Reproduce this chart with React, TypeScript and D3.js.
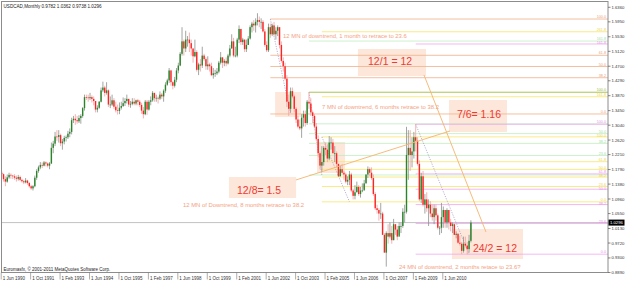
import React from 'react';
import * as d3 from 'd3';

// ---------- DATA ----------
const chartTitle = 'USDCAD,Monthly  0.9782 1.0362 0.9738 1.0296';
const copyright = 'Euromasfx, \u00A9 2001-2011 MetaQuotes Software Corp.';
const firstBar = new Date(1990, 5, 1); // Jun 1990
const firstOpen = 1.17;

// monthly closes Jun 1990 .. Sep 2011
const closes = [
  1.1660, 1.1520, 1.1450, 1.1570, 1.1640, 1.1620, 1.1600,
  1.1560, 1.1530, 1.1580, 1.1500, 1.1460, 1.1430, 1.1480, 1.1410, 1.1320, 1.1260, 1.1320, 1.1560,
  1.1750, 1.1850, 1.1920, 1.1900, 1.1990, 1.1960, 1.1900, 1.1960, 1.2400, 1.2520, 1.2720, 1.2710,
  1.2760, 1.2530, 1.2580, 1.2680, 1.2700, 1.2800, 1.2850, 1.3180, 1.3220, 1.3180, 1.3150, 1.3240,
  1.3300, 1.3520, 1.3830, 1.3820, 1.3800, 1.3830, 1.3780, 1.3720, 1.3480, 1.3530, 1.3700, 1.4020,
  1.4100, 1.3950, 1.4020, 1.3620, 1.3620, 1.3740, 1.3560, 1.3460, 1.3440, 1.3530, 1.3580, 1.3660,
  1.3720, 1.3780, 1.3620, 1.3640, 1.3700, 1.3650, 1.3740, 1.3700, 1.3610, 1.3450, 1.3350, 1.3700,
  1.3480, 1.3700, 1.3740, 1.3950, 1.3800, 1.3810, 1.3790, 1.3900, 1.3850, 1.4010, 1.4180, 1.4300,
  1.4580, 1.4250, 1.4150, 1.4320, 1.4580, 1.4720, 1.5050, 1.5400, 1.5200, 1.5450, 1.5450, 1.5350,
  1.5200, 1.4980, 1.5100, 1.4600, 1.4750, 1.4720, 1.5000, 1.4900, 1.4700, 1.4750, 1.4700, 1.4450,
  1.4500, 1.4500, 1.4550, 1.4800, 1.4950, 1.4800, 1.4850, 1.4780, 1.5000, 1.5200, 1.5400, 1.5000,
  1.5000, 1.5450, 1.5750, 1.5380, 1.5450, 1.5180, 1.5300, 1.5480, 1.5800, 1.5900, 1.5850, 1.5950,
  1.6000, 1.5950, 1.5950, 1.5680, 1.5300, 1.5150, 1.5800, 1.5600, 1.5850, 1.5600, 1.5700, 1.5800,
  1.5300, 1.4850, 1.4700, 1.4350, 1.3700, 1.3500, 1.4000, 1.3850, 1.3500, 1.3200, 1.3000, 1.2950,
  1.3250, 1.3350, 1.3100, 1.3700, 1.3650, 1.3400, 1.3300, 1.3000, 1.2650, 1.2250, 1.1900, 1.2000,
  1.2400, 1.2350, 1.2100, 1.2550, 1.2550, 1.2250, 1.2250, 1.1950, 1.1600, 1.1800, 1.1700, 1.1650,
  1.1450, 1.1500, 1.1650, 1.1200, 1.1050, 1.1150, 1.1300, 1.1100, 1.1200, 1.1200, 1.1400, 1.1650,
  1.1800, 1.1700, 1.1550, 1.1100, 1.0700, 1.0650, 1.0550, 1.0550, 0.9950, 0.9450, 1.0000, 0.9900,
  1.0000, 0.9800, 1.0250, 1.0100, 0.9900, 1.0200, 1.0200, 1.0600, 1.0600, 1.2200, 1.2400, 1.2200,
  1.2300, 1.2700, 1.2600, 1.1950, 1.0950, 1.1600, 1.0800, 1.0950, 1.0700, 1.0800, 1.0550, 1.0450,
  1.0700, 1.0500, 1.0150, 1.0150, 1.0450, 1.0650, 1.0300, 1.0650, 1.0300, 1.0200, 1.0250, 0.9950,
  0.9980, 0.9730, 0.9700, 0.9500, 0.9700, 0.9650, 0.9550, 0.9782, 1.0296,
];

const highs = [
  1.1760, 1.1680, 1.1600, 1.1650, 1.1700, 1.1680, 1.1640,
  1.1660, 1.1620, 1.1640, 1.1620, 1.1530, 1.1500, 1.1550, 1.1500, 1.1440, 1.1360, 1.1350, 1.1620,
  1.1800, 1.1900, 1.2000, 1.1990, 1.2030, 1.2020, 1.1990, 1.2000, 1.2550, 1.2600, 1.2850, 1.2900,
  1.2900, 1.2800, 1.2650, 1.2740, 1.2750, 1.2880, 1.2950, 1.3250, 1.3300, 1.3350, 1.3300, 1.3320,
  1.3350, 1.3550, 1.3900, 1.3900, 1.3900, 1.3950, 1.3880, 1.3850, 1.3720, 1.3600, 1.3720, 1.4100,
  1.4266, 1.4150, 1.4250, 1.4050, 1.3850, 1.3900, 1.3800, 1.3700, 1.3620, 1.3680, 1.3700, 1.3820,
  1.3800, 1.3900, 1.3780, 1.3720, 1.3800, 1.3800, 1.3760, 1.3780, 1.3750, 1.3670, 1.3550, 1.3750,
  1.3750, 1.3750, 1.3850, 1.4000, 1.3950, 1.3900, 1.3850, 1.3990, 1.3950, 1.4050, 1.4250, 1.4350,
  1.4650, 1.4600, 1.4280, 1.4400, 1.4650, 1.4800, 1.5100, 1.5800, 1.5450, 1.5700, 1.5550, 1.5650,
  1.5450, 1.5200, 1.5450, 1.5150, 1.4800, 1.4900, 1.5250, 1.5050, 1.4950, 1.4980, 1.4800, 1.4800,
  1.4650, 1.4600, 1.4650, 1.4850, 1.5100, 1.4950, 1.4900, 1.4950, 1.5050, 1.5300, 1.5600, 1.5500,
  1.5250, 1.5500, 1.5850, 1.5750, 1.5500, 1.5450, 1.5450, 1.5550, 1.5850, 1.5950, 1.6000, 1.6050,
  1.6193, 1.6100, 1.6050, 1.6000, 1.5750, 1.5400, 1.5900, 1.5900, 1.5900, 1.5950, 1.5800, 1.5850,
  1.5800, 1.5400, 1.4950, 1.4800, 1.4450, 1.3900, 1.4100, 1.4100, 1.3900, 1.3550, 1.3300, 1.3200,
  1.3350, 1.3450, 1.3450, 1.3750, 1.3968, 1.3800, 1.3450, 1.3350, 1.3100, 1.2750, 1.2300, 1.2450,
  1.2450, 1.2550, 1.2500, 1.2734, 1.2700, 1.2650, 1.2450, 1.2300, 1.1950, 1.1900, 1.1950, 1.1750,
  1.1700, 1.1600, 1.1750, 1.1700, 1.1250, 1.1350, 1.1450, 1.1350, 1.1300, 1.1400, 1.1500, 1.1650,
  1.1878, 1.1850, 1.1850, 1.1650, 1.1150, 1.0800, 1.0700, 1.0850, 1.0600, 1.0000, 1.0050, 1.0250,
  1.0300, 1.0200, 1.0400, 1.0250, 1.0200, 1.0300, 1.0300, 1.0700, 1.0800, 1.2994, 1.2900, 1.2900,
  1.2700, 1.2850, 1.3065, 1.2700, 1.2050, 1.1700, 1.1750, 1.1100, 1.1150, 1.0950, 1.0900, 1.0800,
  1.0800, 1.0800, 1.0550, 1.0200, 1.0850, 1.0750, 1.0650, 1.0700, 1.0650, 1.0400, 1.0300, 1.0250,
  1.0050, 1.0000, 0.9920, 0.9750, 0.9900, 0.9900, 0.9750, 0.9950, 1.0362,
];

const lows = [
  1.1600, 1.1450, 1.1320, 1.1420, 1.1530, 1.1530, 1.1520,
  1.1500, 1.1450, 1.1480, 1.1460, 1.1420, 1.1380, 1.1400, 1.1360, 1.1280, 1.1220, 1.1200, 1.1290,
  1.1500, 1.1700, 1.1800, 1.1830, 1.1880, 1.1880, 1.1850, 1.1800, 1.1950, 1.2250, 1.2450, 1.2600,
  1.2550, 1.2450, 1.2350, 1.2500, 1.2580, 1.2650, 1.2700, 1.2780, 1.3100, 1.3050, 1.3080, 1.3100,
  1.3080, 1.3250, 1.3450, 1.3750, 1.3700, 1.3750, 1.3680, 1.3600, 1.3400, 1.3400, 1.3500, 1.3680,
  1.3970, 1.3850, 1.3900, 1.3550, 1.3520, 1.3580, 1.3500, 1.3400, 1.3340, 1.3350, 1.3480, 1.3550,
  1.3580, 1.3650, 1.3550, 1.3530, 1.3600, 1.3600, 1.3600, 1.3600, 1.3550, 1.3360, 1.3230, 1.3320,
  1.3330, 1.3450, 1.3600, 1.3700, 1.3700, 1.3700, 1.3650, 1.3750, 1.3780, 1.3700, 1.3950, 1.4150,
  1.4230, 1.4150, 1.4050, 1.4100, 1.4250, 1.4500, 1.4700, 1.5000, 1.5000, 1.5100, 1.5250, 1.5100,
  1.5000, 1.4800, 1.4950, 1.4550, 1.4450, 1.4550, 1.4650, 1.4850, 1.4600, 1.4600, 1.4550, 1.4420,
  1.4350, 1.4400, 1.4450, 1.4500, 1.4750, 1.4650, 1.4700, 1.4700, 1.4750, 1.4950, 1.5200, 1.4950,
  1.4950, 1.4950, 1.5350, 1.5300, 1.5300, 1.5100, 1.5100, 1.5300, 1.5450, 1.5650, 1.5700, 1.5650,
  1.5850, 1.5800, 1.5750, 1.5650, 1.5250, 1.5100, 1.5100, 1.5500, 1.5550, 1.5550, 1.5450, 1.5550,
  1.5200, 1.4800, 1.4550, 1.4300, 1.3550, 1.3300, 1.3400, 1.3800, 1.3400, 1.3100, 1.2950, 1.2900,
  1.2683, 1.3000, 1.3000, 1.3050, 1.3500, 1.3300, 1.3100, 1.2950, 1.2600, 1.2150, 1.1800, 1.1718,
  1.1900, 1.2200, 1.2000, 1.2050, 1.2350, 1.2250, 1.2000, 1.1850, 1.1600, 1.1600, 1.1650, 1.1500,
  1.1400, 1.1350, 1.1350, 1.1150, 1.0948, 1.0950, 1.1150, 1.1050, 1.1000, 1.1150, 1.1250, 1.1400,
  1.1550, 1.1600, 1.1500, 1.1050, 1.0650, 1.0550, 1.0350, 1.0400, 0.9950, 0.9450, 0.9056, 0.9700,
  0.9850, 0.9700, 0.9800, 0.9950, 0.9800, 0.9950, 1.0000, 1.0150, 1.0300, 1.0550, 1.1500, 1.1750,
  1.1850, 1.2100, 1.2300, 1.1900, 1.0900, 1.0850, 1.0750, 1.0550, 1.0600, 1.0200, 1.0450, 1.0350,
  1.0250, 1.0350, 1.0100, 0.9950, 1.0000, 1.0150, 1.0150, 1.0150, 1.0100, 1.0050, 1.0000, 0.9950,
  0.9850, 0.9700, 0.9650, 0.9406, 0.9450, 0.9600, 0.9400, 0.9450, 0.9738,
];

const priceTickLabels = [
  '1.6360', '1.5950', '1.5530', '1.5120', '1.4700', '1.4290', '1.3870', '1.3450', '1.3040', '1.2620',
  '1.2210', '1.1790', '1.1380', '1.0960', '1.0550', '1.0130', '0.9720', '0.9300', '0.8890',
];
const dateTickLabels = [
  '1 Jun 1990', '1 Oct 1991', '1 Feb 1993', '1 Jun 1994', '1 Oct 1995', '1 Feb 1997', '1 Jun 1998',
  '1 Oct 1999', '1 Feb 2001', '1 Jun 2002', '1 Oct 2003', '1 Feb 2005', '1 Jun 2006', '1 Oct 2007',
  '1 Feb 2009', '1 Jun 2010',
];
const bidPrice = 1.0296;

// Fibonacci objects (anchors: bar index of high / low, prices)
const fibKeys = ['orange', 'green', 'yellow', 'pink'];
const fibHighBar = [146, 167, 174, 225];
const fibLowBar = [157, 174, 189, 254];
const fibHighPrice = [1.603, 1.3968, 1.271, 1.3065];
const fibLowPrice = [1.3355, 1.1637, 1.088, 0.9406];
const fibLevelSets = [
  [0, 38.2, 50, 61.8, 100],
  [0, 23.6, 38.2, 50, 61.8, 100, 161.8],
  [0, 23.6, 38.2, 50, 61.8, 100, 161.8, 261.8],
  [0, 23.6, 38.2, 50, 61.8, 100, 161.8],
];

// Rectangles: start bar, end bar, top price, bottom price
const boxStartBar = [148.6, 171.4, 193.6, 243.1, 123.5, 244.7];
const boxEndBar = [162.7, 186.6, 230.6, 274.6, 160.0, 283.3];
const boxTop = [1.3975, 1.2566, 1.5186, 1.3749, 1.158, 1.0115];
const boxBottom = [1.327, 1.1693, 1.4425, 1.2848, 1.0989, 0.927];

// big ratio labels
const ratioTexts = ['12/1 = 12', '7/6= 1.16', '12/8= 1.5', '24/2 = 12'];
const ratioBar = [199.1, 247.4, 127.9, 256.1];
const ratioPrice = [1.4735, 1.3242, 1.1101, 0.9468];

// small notes
const noteTexts = [
  '12 MN of downtrend, 1 month to retrace to 23.6',
  '7 MN of downtrend, 6 months retrace to 38.2',
  '12 MN of Downtrend, 8 months retrace to 38.2',
  '24 MN of downtrend, 2 months retace to 23.6?',
];
const noteBar = [152.9, 174.1, 98.5, 215.9];
const notePrice = [1.5496, 1.3496, 1.0735, 0.8989];

// connector trend lines
const connBar1 = [159.9, 229.5];
const connPrice1 = [1.1496, 1.4454];
const connBar2 = [243.6, 263.2];
const connPrice2 = [1.2876, 1.0031];

// ---------- STYLE ----------
const fibColor: Record<string, string> = {
  orange: '#f0b089',
  green: '#bfeebf',
  yellow: '#f7e46a',
  pink: '#f0a6f0',
};
const fibLabelColor: Record<string, string> = {
  orange: '#e9a27a',
  green: '#a6e0a6',
  yellow: '#eed54a',
  pink: '#e994e9',
};
const OLIVE = '#a9c454';

export default function App() {
  const plotL = 1.5, plotR = 608, plotT = 1.5, plotB = 272.5;
  const xScale = d3.scaleLinear().domain([0, 1]).range([1.7, 1.7 + 1.84]);
  const yScale = d3.scaleLinear().domain([0.889, 1.636]).range([272.5, 7.3]);
  const opens = closes.map((c, i) => (i === 0 ? firstOpen : closes[i - 1]));
  const parse = d3.timeParse('%d %b %Y');
  const barOf = (label: string) => d3.timeMonth.count(firstBar, parse(label) as Date);

  type Lvl = { key: string; lvl: number; price: number; x0: number; color: string; lcolor: string };
  const levels: Lvl[] = [];
  fibKeys.forEach((k, s) => {
    fibLevelSets[s].forEach((lv) => {
      const p = fibLowPrice[s] + (fibHighPrice[s] - fibLowPrice[s]) * lv / 100;
      const olive = k === 'green' && lv === 100;
      levels.push({
        key: k, lvl: lv, price: p, x0: xScale(fibHighBar[s]),
        color: olive ? OLIVE : fibColor[k], lcolor: olive ? '#9cb845' : fibLabelColor[k],
      });
    });
  });
  // hide labels that sit on top of a later-drawn label, then spread the rest
  const visible = levels.filter((l, i) =>
    !levels.some((m, j) => j > i && Math.abs(yScale(m.price) - yScale(l.price)) < 2.5));
  const labelPos = visible
    .map((l) => ({ l, y: yScale(l.price) - 0.8 }))
    .sort((a, b) => a.y - b.y);
  for (let i = 1; i < labelPos.length; i++) {
    if (labelPos[i].y - labelPos[i - 1].y < 4) labelPos[i].y = labelPos[i - 1].y + 4;
  }

  const font = "'Liberation Sans', Arial, sans-serif";

  return (
    <svg width={625} height={282} style={{ position: 'fixed', left: 0, top: 0, background: '#fff' }} fontFamily={font}>
      <rect x={0} y={0} width={625} height={282} fill="#fff" />
      {boxStartBar.map((b, i) => (
        <rect key={'box' + i} x={xScale(b)} y={yScale(boxTop[i])} width={xScale(boxEndBar[i]) - xScale(b)}
          height={yScale(boxBottom[i]) - yScale(boxTop[i])} fill="#fde7da" />
      ))}
      <line x1={plotL} x2={plotR} y1={yScale(bidPrice)} y2={yScale(bidPrice)} stroke="#b4b4b4" strokeWidth={0.8} />
      {levels.map((l, i) => (
        <line key={'fl' + i} x1={l.x0} x2={plotR} y1={yScale(l.price)} y2={yScale(l.price)}
          stroke={l.color} strokeWidth={l.color === OLIVE ? 1 : 0.8} />
      ))}
      {labelPos.map((p, i) => (
        <text key={'flt' + i} x={606} y={p.y} fontSize={3.7} textAnchor="end" fill={p.l.lcolor}>
          {p.l.lvl.toFixed(1)}
        </text>
      ))}
      {fibKeys.map((k, s) => (
        <line key={'fd' + s} x1={xScale(fibHighBar[s])} y1={yScale(fibHighPrice[s])}
          x2={xScale(fibLowBar[s])} y2={yScale(fibLowPrice[s])}
          stroke="#9d8fb8" strokeWidth={0.7} strokeDasharray="1.2,1.3" />
      ))}
      {closes.map((c, i) => {
        const o = opens[i];
        const bull = c >= o;
        const x = xScale(i);
        const yT = yScale(Math.max(o, c));
        const yB = yScale(Math.min(o, c));
        return (
          <g key={'c' + i}>
            <line x1={x} x2={x} y1={yScale(highs[i])} y2={yScale(lows[i])}
              stroke={bull ? '#8a8f8a' : '#f2a0a0'} strokeWidth={0.8} />
            <rect x={x - 0.7} y={yT} width={1.4} height={Math.max(0.7, yB - yT)}
              fill={bull ? '#2a852a' : '#ff2424'} />
          </g>
        );
      })}
      {connBar1.map((b, i) => (
        <line key={'cn' + i} x1={xScale(b)} y1={yScale(connPrice1[i])} x2={xScale(connBar2[i])} y2={yScale(connPrice2[i])}
          stroke="#f5b36e" strokeWidth={0.9} />
      ))}
      {noteTexts.map((t, i) => (
        <text key={'nt' + i} x={xScale(noteBar[i])} y={yScale(notePrice[i])} fontSize={5.9} fill="#f4a282">{t}</text>
      ))}
      {ratioTexts.map((t, i) => (
        <text key={'rt' + i} x={xScale(ratioBar[i])} y={yScale(ratioPrice[i])} fontSize={10.5} fill="#ef3a32">{t}</text>
      ))}
      <rect x={plotL} y={plotT} width={plotR - plotL} height={plotB - plotT} fill="none" stroke="#8c8c8c" strokeWidth={1} />
      {priceTickLabels.map((t, i) => {
        const y = yScale(+t);
        return (
          <g key={'pt' + i}>
            <line x1={plotR} x2={plotR + 2.5} y1={y} y2={y} stroke="#555" strokeWidth={0.7} />
            <text x={611.5} y={y + 1.5} fontSize={4.2} fill="#333">{t}</text>
          </g>
        );
      })}
      <rect x={608.5} y={yScale(bidPrice) - 3} width={16} height={6} fill="#000" />
      <text x={610} y={yScale(bidPrice) + 1.5} fontSize={4.2} fill="#fff">{bidPrice.toFixed(4)}</text>
      {dateTickLabels.map((t, i) => {
        const x = xScale(barOf(t));
        return (
          <g key={'dt' + i}>
            <line x1={x - 0.5} x2={x - 0.5} y1={plotB} y2={279.5} stroke="#777" strokeWidth={0.6} />
            <text x={x + 1} y={279.5} fontSize={4.5} fill="#333">{t}</text>
          </g>
        );
      })}
      <text x={3.5} y={7.6} fontSize={4.6} fill="#222">{chartTitle}</text>
      <text x={3.5} y={271} fontSize={4.5} fill="#222">{copyright}</text>
    </svg>
  );
}
